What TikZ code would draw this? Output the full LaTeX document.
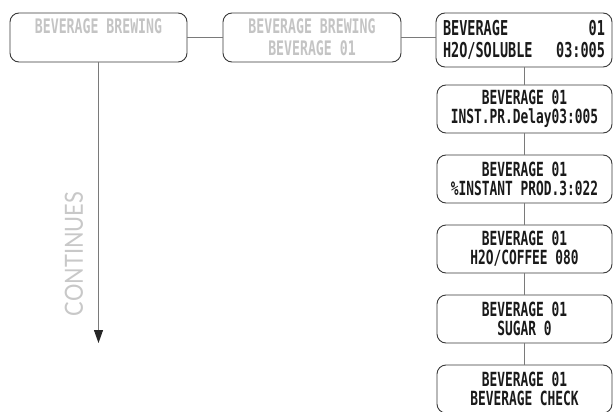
\documentclass[tikz,border=0pt]{standalone}
\usepackage{fontspec}
\usetikzlibrary{arrows.meta}
\newfontfamily\lcd[FakeStretch=0.66]{DejaVu Sans Mono}
\newfontfamily\contfont[FakeStretch=0.87]{Lato}
\definecolor{boxline}{HTML}{3A3A3A}
\definecolor{linkgray}{HTML}{7A7A7A}
\definecolor{ghost}{HTML}{C4C4C4}
\definecolor{conttext}{HTML}{C8C8C8}
\definecolor{lcdtext}{HTML}{1A1A1A}
\tikzset{
  box/.style={draw=boxline, line width=0.9pt, rounded corners=9pt,
    minimum width=175pt, minimum height=48pt, inner sep=0pt, align=center,
    font=\lcd\bfseries\fontsize{19.5}{19}\selectfont, text=lcdtext},
  ghosttext/.style={text=ghost, font=\lcd\bfseries\fontsize{20}{22}\selectfont},
  link/.style={draw=linkgray, line width=0.9pt},
  downarrow/.style={draw=linkgray, line width=1pt,
    -{Triangle[length=13pt,width=9pt,fill=black!85,color=black!85]}},
}
\begin{document}
\begin{tikzpicture}[x=1pt,y=-1pt]
\clip (0,0) rectangle (613,412);
\fill[white] (0,0) rectangle (613,412);
% top row
\node[box, minimum width=177pt, minimum height=49pt] (b1) at (98.5,37.5) {};
\node[ghosttext, inner sep=0pt] (b1t) at (98.5,26) {BEVERAGE BREWING};
\node[box, ghosttext, minimum width=178pt, minimum height=49pt] (b2) at (312,37.5) {BEVERAGE BREWING\\BEVERAGE 01};
\node[box, minimum width=176pt, minimum height=54pt,
  font=\lcd\bfseries\fontsize{20.5}{22.5}\selectfont] (b3) at (524,40)
  {\makebox[162pt][s]{BEVERAGE\hfill 01}\\\makebox[162pt][s]{H2O/SOLUBLE\hfill 03:005}};
% right column
\node[box] (b4) at (524.5,109) {BEVERAGE 01\\INST.PR.Delay03:005};
\node[box] (b5) at (524.5,179) {BEVERAGE 01\\\%INSTANT PROD.3:022};
\node[box] (b6) at (524.5,249) {BEVERAGE 01\\H2O/COFFEE 080};
\node[box] (b7) at (524.5,319) {BEVERAGE 01\\SUGAR 0};
\node[box] (b8) at (524.5,389) {BEVERAGE 01\\BEVERAGE CHECK};
% connectors
\draw[link] (b1) -- (b2);
\draw[link] (b2.east) -- (b2.east -| b3.west);
\draw[link] (b3.south) -- (b3.south |- b4.north);
\draw[link] (b4) -- (b5);
\draw[link] (b5) -- (b6);
\draw[link] (b6) -- (b7);
\draw[link] (b7) -- (b8);
% continues arrow
\coordinate (arrend) at (98.5,343);
\draw[downarrow] (b1.south) -- (arrend);
\node[rotate=90, text=conttext, font=\contfont\fontsize{25}{25}\selectfont, inner sep=0pt] (cont) at (74,254) {CONTINUES};
\end{tikzpicture}
\end{document}
